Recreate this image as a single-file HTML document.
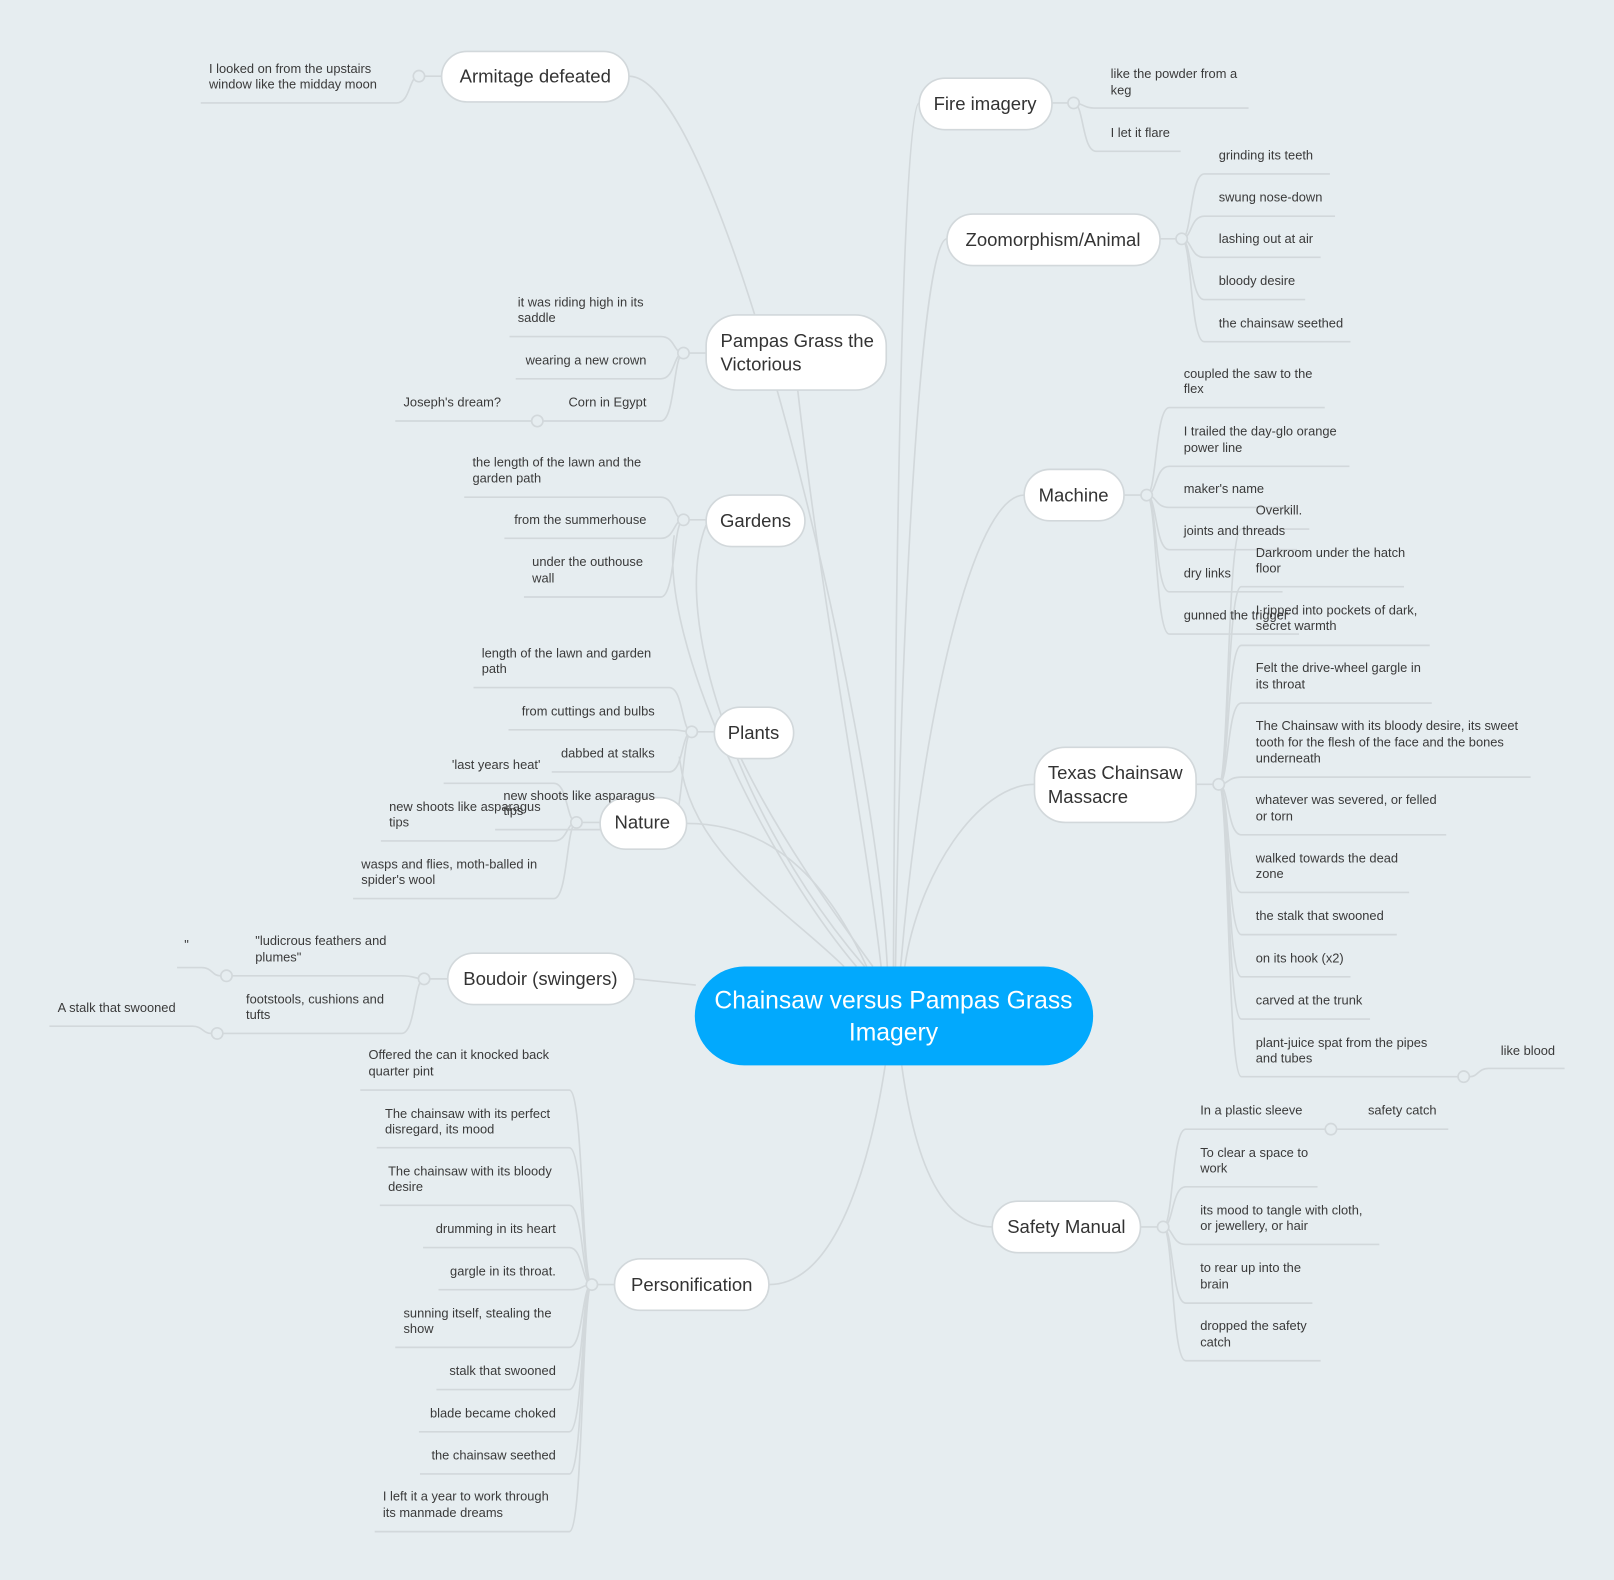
<!DOCTYPE html>
<html><head><meta charset="utf-8"><style>
html,body{margin:0;padding:0;background:#e6edf0;}
svg{display:block;}
text{font-family:"Liberation Sans",sans-serif;}
.l{font-size:12.5px;fill:#3a3a3a;}
.n{font-size:18px;fill:#333;}
.r{text-anchor:end;}
.c{text-anchor:middle;}
path{fill:none;stroke:#d2d8db;stroke-width:1.6;}
.nd{fill:#fff;stroke:#d2d8db;stroke-width:1.6;}
.j{fill:#e6edf0;stroke:#d2d8db;stroke-width:1.6;}
</style></head><body>
<svg width="1614" height="1580" viewBox="0 0 1568 1535" xmlns="http://www.w3.org/2000/svg">
<!-- main connectors -->
<path d="M611 74 C700 74 850 700 862 939"/>
<path d="M893 100 C878 100 870 500 868 939"/>
<path d="M920 232 C895 232 875 600 870 939"/>
<path d="M775 379 C800 600 840 800 856 939"/>
<path d="M686 510 C650 600 720 800 840 939"/>
<path d="M655 520 C640 620 740 830 832 939"/>
<path d="M995 481 C945 481 895 700 875 939"/>
<path d="M720 737 C760 820 820 900 848 939"/>
<path d="M667 800 C760 800 810 870 842 939"/>
<path d="M660 735 C670 830 760 880 820 939"/>
<path d="M1005 762 C950 762 892 850 879 939"/>
<path d="M616 951 L676 957"/>
<path d="M964 1192 C905 1192 885 1100 876 1035"/>
<path d="M747 1248 C820 1248 850 1100 860 1035"/>

<!-- leaf connectors -->
<path d="M407 74 C397 74 399 100 385 100 H195"/>
<path d="M1043 100 C1053 100 1051 105 1065 105 H1213"/>
<path d="M1043 100 C1053 100 1051 147 1065 147 H1147"/>
<path d="M1148 232 C1158 232 1156 169 1170 169 H1292"/>
<path d="M1148 232 C1158 232 1156 210 1170 210 H1297"/>
<path d="M1148 232 C1158 232 1156 250 1170 250 H1283"/>
<path d="M1148 232 C1158 232 1156 291 1170 291 H1268"/>
<path d="M1148 232 C1158 232 1156 332 1170 332 H1312"/>
<path d="M1114 481 C1124 481 1122 396 1136 396 H1287"/>
<path d="M1114 481 C1124 481 1122 453 1136 453 H1311"/>
<path d="M1114 481 C1124 481 1122 493 1136 493 H1254"/>
<path d="M1114 481 C1124 481 1122 534 1136 534 H1260"/>
<path d="M1114 481 C1124 481 1122 575 1136 575 H1246"/>
<path d="M1114 481 C1124 481 1122 616 1136 616 H1262"/>
<path d="M1184 762 C1194 762 1192 514 1206 514 H1272"/>
<path d="M1184 762 C1194 762 1192 570 1206 570 H1364"/>
<path d="M1184 762 C1194 762 1192 627 1206 627 H1389"/>
<path d="M1184 762 C1194 762 1192 683 1206 683 H1391"/>
<path d="M1184 762 C1194 762 1192 755 1206 755 H1487"/>
<path d="M1184 762 C1194 762 1192 811 1206 811 H1405"/>
<path d="M1184 762 C1194 762 1192 867 1206 867 H1369"/>
<path d="M1184 762 C1194 762 1192 908 1206 908 H1357"/>
<path d="M1184 762 C1194 762 1192 949 1206 949 H1312"/>
<path d="M1184 762 C1194 762 1192 990 1206 990 H1331"/>
<path d="M1184 762 C1194 762 1192 1046 1206 1046 H1416"/>
<path d="M1428 1046 C1436 1046 1436 1038 1446 1038 H1520"/>
<path d="M1130 1192 C1140 1192 1138 1097 1152 1097 H1287"/>
<path d="M1299 1097 H1407"/>
<path d="M1130 1192 C1140 1192 1138 1153 1152 1153 H1280"/>
<path d="M1130 1192 C1140 1192 1138 1209 1152 1209 H1340"/>
<path d="M1130 1192 C1140 1192 1138 1266 1152 1266 H1275"/>
<path d="M1130 1192 C1140 1192 1138 1322 1152 1322 H1283"/>
<path d="M664 343 C654 343 656 327 642 327 H495"/>
<path d="M664 343 C654 343 656 368 642 368 H501"/>
<path d="M664 343 C654 343 656 409 642 409 H528"/>
<path d="M516 409 H384"/>
<path d="M664 505 C654 505 656 483 642 483 H451"/>
<path d="M664 505 C654 505 656 523 642 523 H490"/>
<path d="M664 505 C654 505 656 580 642 580 H509"/>
<path d="M672 711 C662 711 664 668 650 668 H460"/>
<path d="M672 711 C662 711 664 709 650 709 H494"/>
<path d="M672 711 C662 711 664 750 650 750 H536"/>
<path d="M672 711 C662 711 664 806 650 806 H481"/>
<path d="M560 799 C550 799 552 761 538 761 H431"/>
<path d="M560 799 C550 799 552 817 538 817 H370"/>
<path d="M560 799 C550 799 552 873 538 873 H343"/>
<path d="M560 799 H583"/>
<path d="M412 951 C402 951 404 948 390 948 H226"/>
<path d="M214 948 C206 948 206 940 196 940 H172"/>
<path d="M412 951 C402 951 404 1004 390 1004 H217"/>
<path d="M205 1004 C197 1004 197 997 187 997 H48"/>
<path d="M412 951 H435"/>
<path d="M575 1248 C565 1248 567 1059 553 1059 H350"/>
<path d="M575 1248 C565 1248 567 1115 553 1115 H366"/>
<path d="M575 1248 C565 1248 567 1171 553 1171 H369"/>
<path d="M575 1248 C565 1248 567 1212 553 1212 H411"/>
<path d="M575 1248 C565 1248 567 1253 553 1253 H426"/>
<path d="M575 1248 C565 1248 567 1309 553 1309 H384"/>
<path d="M575 1248 C565 1248 567 1350 553 1350 H424"/>
<path d="M575 1248 C565 1248 567 1391 553 1391 H407"/>
<path d="M575 1248 C565 1248 567 1432 553 1432 H408"/>
<path d="M575 1248 C565 1248 567 1488 553 1488 H364"/>
<path d="M575 1248 H597"/>
<path d="M407 74 H429"/><path d="M1022 100 H1043"/><path d="M1127 232 H1148"/>
<path d="M1092 481 H1114"/><path d="M1162 762 H1184"/><path d="M1108 1192 H1130"/>
<path d="M664 343 H686"/><path d="M664 505 H686"/><path d="M672 711 H694"/>

<!-- junction circles -->
<circle class="j" cx="407" cy="74" r="5.5"/><circle class="j" cx="1043" cy="100" r="5.5"/>
<circle class="j" cx="1148" cy="232" r="5.5"/><circle class="j" cx="1114" cy="481" r="5.5"/>
<circle class="j" cx="1184" cy="762" r="5.5"/><circle class="j" cx="1422" cy="1046" r="5.5"/>
<circle class="j" cx="1130" cy="1192" r="5.5"/><circle class="j" cx="1293" cy="1097" r="5.5"/>
<circle class="j" cx="664" cy="343" r="5.5"/><circle class="j" cx="522" cy="409" r="5.5"/>
<circle class="j" cx="664" cy="505" r="5.5"/><circle class="j" cx="672" cy="711" r="5.5"/>
<circle class="j" cx="560" cy="799" r="5.5"/><circle class="j" cx="412" cy="951" r="5.5"/>
<circle class="j" cx="220" cy="948" r="5.5"/><circle class="j" cx="211" cy="1004" r="5.5"/>
<circle class="j" cx="575" cy="1248" r="5.5"/>

<!-- nodes -->
<rect x="675" y="939" width="387" height="96" rx="48" fill="#02a9fd"/>
<text x="868" y="980" class="c" font-size="24" fill="#fff">Chainsaw versus Pampas Grass</text>
<text x="868" y="1011" class="c" font-size="24" fill="#fff">Imagery</text>

<rect class="nd" x="429" y="50" width="182" height="49" rx="24.5"/><text class="n c" x="520" y="80">Armitage defeated</text>
<rect class="nd" x="893" y="76" width="129" height="50" rx="25"/><text class="n c" x="957" y="107">Fire imagery</text>
<rect class="nd" x="920" y="208" width="207" height="50" rx="25"/><text class="n c" x="1023" y="239">Zoomorphism/Animal</text>
<rect class="nd" x="686" y="306" width="175" height="73" rx="30"/><text class="n" x="700" y="337">Pampas Grass the</text><text class="n" x="700" y="360">Victorious</text>
<rect class="nd" x="686" y="481" width="96" height="50" rx="25"/><text class="n c" x="734" y="512">Gardens</text>
<rect class="nd" x="995" y="456" width="97" height="50" rx="25"/><text class="n c" x="1043" y="487">Machine</text>
<rect class="nd" x="694" y="687" width="77" height="50" rx="25"/><text class="n c" x="732" y="718">Plants</text>
<rect class="nd" x="583" y="775" width="84" height="50" rx="25"/><text class="n c" x="624" y="805">Nature</text>
<rect class="nd" x="1005" y="726" width="157" height="73" rx="30"/><text class="n" x="1018" y="757">Texas Chainsaw</text><text class="n" x="1018" y="780">Massacre</text>
<rect class="nd" x="435" y="926" width="181" height="50" rx="25"/><text class="n c" x="525" y="957">Boudoir (swingers)</text>
<rect class="nd" x="964" y="1167" width="144" height="50" rx="25"/><text class="n c" x="1036" y="1198">Safety Manual</text>
<rect class="nd" x="597" y="1223" width="150" height="50" rx="25"/><text class="n c" x="672" y="1254">Personification</text>

<!-- leaf labels -->
<text class="l" x="203" y="71">I looked on from the upstairs</text><text class="l" x="203" y="86">window like the midday moon</text>
<text class="l" x="1079" y="76">like the powder from a</text><text class="l" x="1079" y="92">keg</text>
<text class="l" x="1079" y="133">I let it flare</text>
<text class="l" x="1184" y="155">grinding its teeth</text>
<text class="l" x="1184" y="196">swung nose-down</text>
<text class="l" x="1184" y="236">lashing out at air</text>
<text class="l" x="1184" y="277">bloody desire</text>
<text class="l" x="1184" y="318">the chainsaw seethed</text>
<text class="l" x="1150" y="367">coupled the saw to the</text><text class="l" x="1150" y="382">flex</text>
<text class="l" x="1150" y="423">I trailed the day-glo orange</text><text class="l" x="1150" y="439">power line</text>
<text class="l" x="1150" y="479">maker's name</text>
<text class="l" x="1150" y="520">joints and threads</text>
<text class="l" x="1150" y="561">dry links</text>
<text class="l" x="1150" y="602">gunned the trigger</text>
<text class="l" x="1220" y="500">Overkill.</text>
<text class="l" x="1220" y="541">Darkroom under the hatch</text><text class="l" x="1220" y="556">floor</text>
<text class="l" x="1220" y="597">I ripped into pockets of dark,</text><text class="l" x="1220" y="612">secret warmth</text>
<text class="l" x="1220" y="653">Felt the drive-wheel gargle in</text><text class="l" x="1220" y="669">its throat</text>
<text class="l" x="1220" y="709">The Chainsaw with its bloody desire, its sweet</text><text class="l" x="1220" y="725">tooth for the flesh of the face and the bones</text><text class="l" x="1220" y="741">underneath</text>
<text class="l" x="1220" y="781">whatever was severed, or felled</text><text class="l" x="1220" y="797">or torn</text>
<text class="l" x="1220" y="838">walked towards the dead</text><text class="l" x="1220" y="853">zone</text>
<text class="l" x="1220" y="894">the stalk that swooned</text>
<text class="l" x="1220" y="935">on its hook (x2)</text>
<text class="l" x="1220" y="976">carved at the trunk</text>
<text class="l" x="1220" y="1017">plant-juice spat from the pipes</text><text class="l" x="1220" y="1032">and tubes</text>
<text class="l" x="1458" y="1025">like blood</text>
<text class="l" x="1166" y="1083">In a plastic sleeve</text>
<text class="l" x="1329" y="1083">safety catch</text>
<text class="l" x="1166" y="1124">To clear a space to</text><text class="l" x="1166" y="1139">work</text>
<text class="l" x="1166" y="1180">its mood to tangle with cloth,</text><text class="l" x="1166" y="1195">or jewellery, or hair</text>
<text class="l" x="1166" y="1236">to rear up into the</text><text class="l" x="1166" y="1252">brain</text>
<text class="l" x="1166" y="1292">dropped the safety</text><text class="l" x="1166" y="1308">catch</text>

<text class="l" x="503" y="298">it was riding high in its</text><text class="l" x="503" y="313">saddle</text>
<text class="l r" x="628" y="354">wearing a new crown</text>
<text class="l r" x="628" y="395">Corn in Egypt</text>
<text class="l" x="392" y="395">Joseph's dream?</text>
<text class="l" x="459" y="453">the length of the lawn and the</text><text class="l" x="459" y="469">garden path</text>
<text class="l r" x="628" y="509">from the summerhouse</text>
<text class="l" x="517" y="550">under the outhouse</text><text class="l" x="517" y="566">wall</text>
<text class="l" x="468" y="639">length of the lawn and garden</text><text class="l" x="468" y="654">path</text>
<text class="l r" x="636" y="695">from cuttings and bulbs</text>
<text class="l r" x="636" y="736">dabbed at stalks</text>
<text class="l" x="489" y="777">new shoots like asparagus</text><text class="l" x="489" y="792">tips</text>
<text class="l" x="439" y="747">'last years heat'</text>
<text class="l" x="378" y="788">new shoots like asparagus</text><text class="l" x="378" y="803">tips</text>
<text class="l" x="351" y="844">wasps and flies, moth-balled in</text><text class="l" x="351" y="859">spider's wool</text>
<text class="l" x="179" y="922">"</text>
<text class="l" x="248" y="918">"ludicrous feathers and</text><text class="l" x="248" y="934">plumes"</text>
<text class="l" x="239" y="975">footstools, cushions and</text><text class="l" x="239" y="990">tufts</text>
<text class="l" x="56" y="983">A stalk that swooned</text>
<text class="l" x="358" y="1029">Offered the can it knocked back</text><text class="l" x="358" y="1045">quarter  pint</text>
<text class="l" x="374" y="1086">The chainsaw with its perfect</text><text class="l" x="374" y="1101">disregard, its mood</text>
<text class="l" x="377" y="1142">The chainsaw with its bloody</text><text class="l" x="377" y="1157">desire</text>
<text class="l r" x="540" y="1198">drumming in its heart</text>
<text class="l r" x="540" y="1239">gargle in its throat.</text>
<text class="l" x="392" y="1280">sunning itself, stealing the</text><text class="l" x="392" y="1295">show</text>
<text class="l r" x="540" y="1336">stalk that swooned</text>
<text class="l r" x="540" y="1377">blade became choked</text>
<text class="l r" x="540" y="1418">the chainsaw seethed</text>
<text class="l" x="372" y="1458">I left it a year to work through</text><text class="l" x="372" y="1474">its manmade dreams</text>
</svg>
</body></html>
